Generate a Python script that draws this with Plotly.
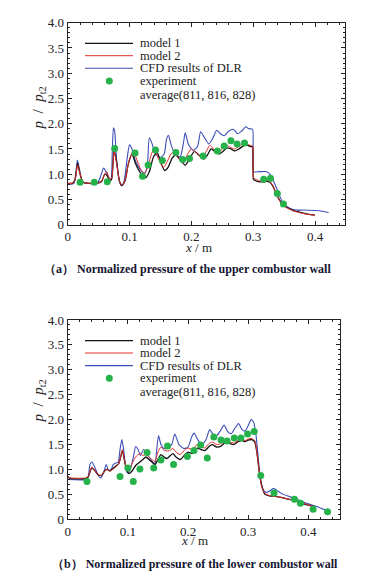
import plotly.graph_objects as go

# page body has an 8px default margin: lay out in window pixels, then shift
OFF = 8
W, H = 364, 569

# ---------------- data: (a) upper combustor wall ----------------
a_m1_x = [0, 0.008, 0.012, 0.016, 0.02, 0.025, 0.035, 0.048, 0.055, 0.06, 0.064, 0.068, 0.071, 0.075, 0.079,
          0.084, 0.088, 0.093, 0.098, 0.104, 0.11, 0.118, 0.126, 0.132, 0.139, 0.145, 0.15, 0.157, 0.163, 0.169,
          0.175, 0.182, 0.19, 0.197, 0.205, 0.212, 0.22, 0.226, 0.232, 0.238, 0.245, 0.251, 0.258, 0.264, 0.27,
          0.277, 0.284, 0.29, 0.295, 0.299, 0.3005, 0.304, 0.31, 0.316, 0.322, 0.327, 0.332, 0.337, 0.342, 0.347,
          0.352, 0.358, 0.365, 0.375, 0.385, 0.393, 0.4]
a_m1_y = [0.82, 0.82, 0.9, 1.22, 1.0, 0.84, 0.82, 0.82, 0.86, 1.0, 0.97, 0.87, 0.9, 1.48, 1.25,
          0.85, 0.78, 0.88, 1.2, 1.4, 1.2, 1.02, 0.93, 1.05, 1.35, 1.42, 1.25, 1.07, 1.15, 1.32,
          1.38, 1.28, 1.18, 1.3, 1.45, 1.38, 1.3, 1.38, 1.5, 1.45, 1.4, 1.45, 1.52, 1.5, 1.46,
          1.5, 1.56, 1.58, 1.55, 1.54, 0.9, 0.87, 0.85, 0.85, 0.86, 0.84, 0.76, 0.62, 0.5, 0.41,
          0.36, 0.32, 0.28, 0.25, 0.22, 0.2, 0.19]

a_m2_x = [0, 0.008, 0.012, 0.016, 0.02, 0.025, 0.035, 0.048, 0.055, 0.06, 0.063, 0.068, 0.071, 0.075, 0.079,
          0.084, 0.088, 0.093, 0.099, 0.106, 0.112, 0.118, 0.124, 0.13, 0.136, 0.141, 0.147, 0.155, 0.161, 0.167,
          0.172, 0.179, 0.187, 0.194, 0.2, 0.208, 0.217, 0.224, 0.23, 0.236, 0.243, 0.25, 0.256, 0.262, 0.27,
          0.277, 0.285, 0.29, 0.295, 0.299, 0.3005, 0.304, 0.31, 0.316, 0.322, 0.327, 0.332, 0.337, 0.342, 0.347,
          0.352, 0.358, 0.365, 0.375, 0.385, 0.393, 0.4]
a_m2_y = [0.82, 0.82, 0.9, 1.18, 1.0, 0.84, 0.82, 0.82, 0.87, 1.0, 1.05, 0.9, 0.92, 1.45, 1.22,
          0.85, 0.78, 0.9, 1.25, 1.45, 1.28, 1.1, 1.02, 1.15, 1.42, 1.49, 1.3, 1.13, 1.25, 1.4,
          1.44, 1.32, 1.22, 1.4, 1.5, 1.42, 1.33, 1.45, 1.57, 1.5, 1.42, 1.5, 1.58, 1.54, 1.5,
          1.55, 1.62, 1.6, 1.57, 1.56, 0.93, 0.9, 0.87, 0.86, 0.88, 0.86, 0.77, 0.62, 0.49, 0.4,
          0.35, 0.31, 0.27, 0.24, 0.21, 0.2, 0.18]

a_dlr_x = [0, 0.01, 0.013, 0.0156, 0.019, 0.024, 0.03, 0.048, 0.053, 0.058, 0.062, 0.067, 0.07, 0.072, 0.074,
           0.076, 0.079, 0.083, 0.087, 0.091, 0.096, 0.1, 0.104, 0.11, 0.118, 0.125, 0.129, 0.132, 0.136, 0.142,
           0.15, 0.156, 0.16, 0.163, 0.168, 0.175, 0.182, 0.187, 0.19, 0.195, 0.203, 0.21, 0.215, 0.22, 0.228,
           0.235, 0.241, 0.247, 0.253, 0.26, 0.268, 0.275, 0.281, 0.288, 0.293, 0.299, 0.3005, 0.31, 0.322, 0.327,
           0.333, 0.34, 0.346, 0.352, 0.36, 0.37, 0.38, 0.4, 0.41, 0.422]
a_dlr_y = [0.8, 0.82, 1.0, 1.28, 1.1, 0.85, 0.82, 0.82, 0.95, 1.12, 1.05, 0.92, 0.9, 1.4, 1.92,
           1.85, 1.3, 0.9, 0.77, 0.85, 1.3, 1.58, 1.5, 1.25, 1.08, 1.02, 1.2, 1.72, 1.62, 1.4,
           1.33, 1.4, 1.7, 1.77, 1.55, 1.38, 1.35, 1.6, 1.82, 1.6, 1.47, 1.55, 1.84, 1.75, 1.6,
           1.72, 1.87, 1.8, 1.76, 1.85, 1.89, 1.8, 1.85, 1.94, 1.9, 1.89, 1.05, 1.05, 1.05, 1.0,
           0.86, 0.66, 0.48, 0.38, 0.32, 0.29, 0.29, 0.28, 0.27, 0.24]

a_exp_x = [0.020, 0.043, 0.064, 0.076, 0.109, 0.121, 0.130, 0.142, 0.153, 0.175, 0.186, 0.197, 0.219,
           0.242, 0.253, 0.264, 0.274, 0.286, 0.317, 0.328, 0.339, 0.349]
a_exp_y = [0.84, 0.84, 0.85, 1.51, 1.42, 0.96, 1.18, 1.48, 1.27, 1.43, 1.29, 1.31, 1.36,
           1.46, 1.56, 1.66, 1.60, 1.62, 0.90, 0.92, 0.62, 0.41]

# ---------------- data: (b) lower combustor wall ----------------
b_m1_x = [0, 0.004, 0.03, 0.034, 0.04, 0.045, 0.05, 0.056, 0.062, 0.066, 0.07, 0.075, 0.08, 0.085, 0.088,
          0.091, 0.094, 0.098, 0.102, 0.107, 0.113, 0.12, 0.125, 0.13, 0.135, 0.14, 0.145, 0.15, 0.155, 0.16,
          0.165, 0.175, 0.18, 0.187, 0.195, 0.2, 0.207, 0.215, 0.222, 0.228, 0.235, 0.24, 0.248, 0.255, 0.263,
          0.27, 0.276, 0.283, 0.29, 0.295, 0.3, 0.306, 0.311, 0.315, 0.319, 0.323, 0.328, 0.335, 0.345, 0.355,
          0.365, 0.375, 0.385, 0.395, 0.405, 0.41]
b_m1_y = [0.86, 0.82, 0.82, 0.85, 1.03, 0.98, 0.9, 0.88, 0.98, 1.0, 0.97, 1.02, 1.07, 1.12, 1.25,
          1.38, 1.2, 1.0, 0.92, 0.97, 1.08, 1.15, 1.2, 1.25, 1.2, 1.15, 1.1, 1.2, 1.3, 1.25,
          1.22, 1.32, 1.25, 1.2, 1.3, 1.35, 1.32, 1.43, 1.4, 1.38, 1.46, 1.5, 1.45, 1.47, 1.55,
          1.52, 1.5, 1.56, 1.58, 1.56, 1.59, 1.6, 1.55, 1.3, 0.9, 0.65, 0.5, 0.47, 0.46, 0.44,
          0.41, 0.38, 0.34, 0.3, 0.27, 0.26]

b_m2_x = [0, 0.004, 0.03, 0.034, 0.04, 0.045, 0.05, 0.056, 0.062, 0.066, 0.07, 0.075, 0.08, 0.085, 0.088,
          0.091, 0.094, 0.098, 0.102, 0.107, 0.113, 0.12, 0.125, 0.13, 0.135, 0.14, 0.145, 0.15, 0.155, 0.16,
          0.167, 0.175, 0.18, 0.187, 0.195, 0.2, 0.207, 0.215, 0.222, 0.228, 0.235, 0.24, 0.248, 0.255, 0.263,
          0.27, 0.276, 0.283, 0.29, 0.295, 0.3, 0.306, 0.311, 0.315, 0.319, 0.323, 0.328, 0.335, 0.345, 0.355,
          0.365, 0.375, 0.385, 0.395, 0.405, 0.41]
b_m2_y = [0.85, 0.83, 0.83, 0.86, 1.05, 0.99, 0.9, 0.88, 0.98, 1.0, 0.97, 1.0, 1.05, 1.12, 1.25,
          1.4, 1.22, 1.02, 0.97, 1.12, 1.25, 1.32, 1.28, 1.3, 1.25, 1.2, 1.16, 1.35, 1.45, 1.39,
          1.37, 1.42, 1.35, 1.3, 1.4, 1.43, 1.4, 1.5, 1.46, 1.43, 1.52, 1.55, 1.5, 1.52, 1.58,
          1.55, 1.53, 1.58, 1.6, 1.58, 1.61, 1.62, 1.58, 1.3, 0.9, 0.63, 0.52, 0.48, 0.46, 0.44,
          0.41, 0.38, 0.34, 0.31, 0.27, 0.26]

b_dlr_x = [0, 0.03, 0.034, 0.037, 0.04, 0.045, 0.05, 0.055, 0.06, 0.064, 0.068, 0.072, 0.076, 0.08, 0.084,
           0.087, 0.09, 0.093, 0.097, 0.1, 0.105, 0.11, 0.113, 0.117, 0.121, 0.126, 0.13, 0.138, 0.145, 0.148,
           0.151, 0.155, 0.16, 0.167, 0.173, 0.178, 0.185, 0.193, 0.2, 0.206, 0.21, 0.217, 0.223, 0.23, 0.236,
           0.242, 0.247, 0.254, 0.26, 0.266, 0.272, 0.278, 0.284, 0.29, 0.295, 0.3, 0.305, 0.309, 0.313, 0.317,
           0.32, 0.325, 0.33, 0.336, 0.342, 0.348, 0.355, 0.37, 0.385, 0.4, 0.415, 0.43]
b_dlr_y = [0.8, 0.8, 0.85, 1.1, 1.15, 1.05, 0.9, 0.83, 0.95, 1.1, 0.98, 1.0, 1.1, 1.13, 1.15,
           1.4, 1.6, 1.4, 1.0, 0.93, 1.05, 1.3, 1.46, 1.4, 1.28, 1.4, 1.35, 1.2, 1.12, 1.4,
           1.68, 1.5, 1.42, 1.43, 1.5, 1.71, 1.5, 1.42, 1.45, 1.65, 1.73, 1.58, 1.5, 1.6, 1.8,
           1.7, 1.67, 1.78, 1.89, 1.76, 1.72, 1.83, 1.92, 1.8, 1.77, 1.88, 2.0, 1.95, 1.7, 1.2,
           0.85, 0.6, 0.54, 0.57, 0.62, 0.58, 0.52, 0.45, 0.38, 0.31, 0.25, 0.18]

b_exp_x = [0.032, 0.087, 0.100, 0.109, 0.120, 0.132, 0.143, 0.155, 0.166, 0.176, 0.199, 0.210, 0.221,
           0.232, 0.243, 0.255, 0.265, 0.277, 0.288, 0.299, 0.310, 0.321, 0.343, 0.377, 0.387, 0.408, 0.432]
b_exp_y = [0.76, 0.86, 1.03, 0.76, 1.01, 1.34, 1.03, 1.19, 1.47, 1.10, 1.26, 1.38, 1.49,
           1.23, 1.65, 1.59, 1.57, 1.63, 1.63, 1.71, 1.76, 0.88, 0.53, 0.40, 0.32, 0.20, 0.15]

# ---------------- labels ----------------
legend_labels = ["model 1", "model 2", "CFD results of DLR", "experiment", "average(811, 816, 828)"]
captions = ["（a） Normalized pressure of the upper combustor wall",
            "（b） Normalized pressure of the lower combustor wall"]
x_title = "<i>x</i> / m"
y_title = "<i>p</i>&nbsp; /&nbsp; <i>p</i><sub>t2</sub>"
x_tickvals = [0, 0.1, 0.2, 0.3, 0.4]
x_ticktext = ["0", "0.1", "0.2", "0.3", "0.4"]
y_tickvals = [0, 0.5, 1.0, 1.5, 2.0, 2.5, 3.0, 3.5, 4.0]
y_ticktext = ["0", "0.5", "1.0", "1.5", "2.0", "2.5", "3.0", "3.5", "4.0"]

BLACK = "#111111"
RED = "#e3302a"
BLUE = "#3c4fb8"
GREEN = "#25b24a"
FONT = "Liberation Serif"

fig = go.Figure()

def add_panel(xa, ya, m1x, m1y, m2x, m2y, dx, dy, ex, ey):
    fig.add_trace(go.Scatter(x=dx, y=dy, mode="lines", line=dict(color=BLUE, width=1.1, shape="spline", smoothing=0.6),
                             xaxis=xa, yaxis=ya, name=legend_labels[2]))
    fig.add_trace(go.Scatter(x=m1x, y=m1y, mode="lines", line=dict(color=BLACK, width=1.3, shape="spline", smoothing=0.6),
                             xaxis=xa, yaxis=ya, name=legend_labels[0]))
    fig.add_trace(go.Scatter(x=m2x, y=m2y, mode="lines", line=dict(color=RED, width=1.0, shape="spline", smoothing=0.6),
                             xaxis=xa, yaxis=ya, name=legend_labels[1]))
    fig.add_trace(go.Scatter(x=ex, y=ey, mode="markers", marker=dict(color=GREEN, size=7, line=dict(width=0)),
                             xaxis=xa, yaxis=ya, name=legend_labels[3]))

add_panel("x", "y", a_m1_x, a_m1_y, a_m2_x, a_m2_y, a_dlr_x, a_dlr_y, a_exp_x, a_exp_y)
add_panel("x2", "y2", b_m1_x, b_m1_y, b_m2_x, b_m2_y, b_dlr_x, b_dlr_y, b_exp_x, b_exp_y)

axis_common = dict(showline=True, linecolor="#222", linewidth=1, mirror="ticks", ticks="inside", ticklen=4,
                   tickcolor="#222", showgrid=False, zeroline=False, automargin=False,
                   tickfont=dict(family=FONT, size=13, color="#222"))

def xaxis(domain, rng, anchor):
    d = dict(axis_common)
    d.update(domain=domain, range=rng, anchor=anchor, tickvals=x_tickvals, ticktext=x_ticktext,
             minor=dict(ticks="inside", ticklen=2, dtick=0.02, tick0=0, tickcolor="#222"))
    return d

def yaxis(domain, anchor):
    d = dict(axis_common)
    d.update(domain=domain, range=[0, 4], anchor=anchor, tickvals=y_tickvals, ticktext=y_ticktext,
             minor=dict(ticks="inside", ticklen=2, dtick=0.1, tick0=0, tickcolor="#222"))
    return d

def fx(px):
    return (px - OFF) / W

def fy(py):
    return 1 - (py - OFF) / H

fig.update_layout(
    template="none",
    width=W, height=H, margin=dict(l=0, r=0, t=0, b=0, pad=0, autoexpand=False),
    paper_bgcolor="white", plot_bgcolor="white", showlegend=False,
    xaxis=xaxis([fx(67.7), fx(345)], [0, 0.4485], "y"),
    yaxis=yaxis([fy(224.7), fy(22.7)], "x"),
    xaxis2=xaxis([fx(67.7), fx(340)], [0, 0.4527], "y2"),
    yaxis2=yaxis([fy(519.3), fy(320)], "x2"),
)

shapes = []
annotations = []

def add_legend(top):
    rows = [top + 20.6, top + 33.0, top + 45.6, top + 58.3, top + 72.3]
    cols = [BLACK, RED, BLUE]
    widths = [1.3, 1.0, 1.1]
    for i in range(3):
        shapes.append(dict(type="line", xref="paper", yref="paper", x0=fx(85), x1=fx(133),
                           y0=fy(rows[i]), y1=fy(rows[i]), line=dict(color=cols[i], width=widths[i])))
    r = 3.5
    shapes.append(dict(type="circle", xref="paper", yref="paper", x0=fx(109.3 - r), x1=fx(109.3 + r),
                       y0=fy(rows[3] + r), y1=fy(rows[3] - r), fillcolor=GREEN, line=dict(width=0)))
    for i, lab in enumerate(legend_labels):
        annotations.append(dict(xref="paper", yref="paper", x=fx(137.5), y=fy(rows[i]), text=lab,
                                showarrow=False, xanchor="left", yanchor="middle",
                                font=dict(family=FONT, size=12.5, color="#222")))

add_legend(22.7)
add_legend(320)

# axis titles
for (xc, yc) in [(198, 247.5), (195, 540.5)]:
    annotations.append(dict(xref="paper", yref="paper", x=fx(xc), y=fy(yc), text=x_title, showarrow=False,
                            xanchor="center", yanchor="middle", font=dict(family=FONT, size=13, color="#222")))
for (xc, yc) in [(38.5, 108), (38.5, 401)]:
    annotations.append(dict(xref="paper", yref="paper", x=fx(xc), y=fy(yc),
                            text=y_title, showarrow=False, textangle=-90,
                            xanchor="center", yanchor="middle", font=dict(family=FONT, size=15, color="#222")))

# captions
for (xc, yc), cap in zip([(187.5, 268.5), (195.5, 563.5)], captions):
    annotations.append(dict(xref="paper", yref="paper", x=fx(xc), y=fy(yc), text="<b>" + cap + "</b>",
                            showarrow=False, xanchor="center", yanchor="middle",
                            font=dict(family=FONT, size=12, color="#151530")))

fig.update_layout(shapes=shapes, annotations=annotations)
fig.write_html("out.html")
